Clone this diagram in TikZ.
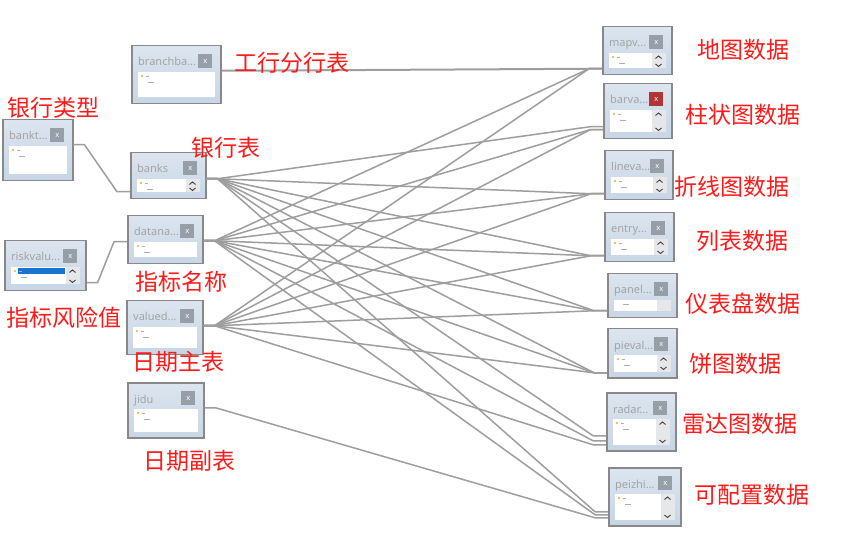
\documentclass[tikz,border=0pt]{standalone}
\usepackage{fontspec}
\newfontfamily\cjk{Noto Sans CJK SC}
\newfontfamily\uifont{Noto Sans}
\usetikzlibrary{calc}
\definecolor{boxtop}{HTML}{DCE5EF}
\definecolor{boxbot}{HTML}{C7D5E5}
\definecolor{boxline}{HTML}{888888}
\definecolor{ttlc}{HTML}{A4A4A4}
\definecolor{btnc}{HTML}{969EA8}
\definecolor{btnred}{HTML}{B03535}
\definecolor{scrl}{HTML}{E6E7E9}
\definecolor{chevc}{HTML}{404040}
\definecolor{linkc}{HTML}{9E9E9E}
\definecolor{labred}{HTML}{FF1A1A}
\definecolor{keyc}{HTML}{E8B020}
\definecolor{rowc}{HTML}{B8A8B0}
\definecolor{hilite}{HTML}{1874D2}
\tikzset{
 tbl/.style={draw=boxline, line width=1.5pt, top color=boxtop, bottom color=boxbot, inner sep=0pt, rectangle},
 ttl/.style={font=\uifont\fontsize{11}{12}\selectfont, text=ttlc, inner sep=0pt},
 btn/.style={minimum width=14pt, minimum height=14pt, inner sep=0pt, font=\uifont\fontsize{7.5}{8}\selectfont, text=white},
 lbl/.style={font=\cjk\fontsize{23}{27}\selectfont, text=labred, inner sep=0pt, anchor=west},
 link/.style={draw=linkc, line width=1.5pt, line join=round},
 chev/.style={draw=chevc, line width=0.9pt},
 rowline/.style={draw=rowc, line width=0.7pt},
}
% name, x, y, w, h, title, button colour, kind (0 plain, 1 scroll, 2 scroll+highlight, 3 grey side)
\newcommand\dbtable[8]{%
 \node[tbl, minimum width=#4pt, minimum height=#5pt, anchor=north west] (#1) at (#2,#3) {};
 \node[ttl, anchor=base west] (#1-t) at ([xshift=7pt,yshift=-21pt]#1.north west) {#6};
 \node[btn, fill=#7, anchor=north east] (#1-b) at ([xshift=-9pt,yshift=-9pt]#1.north east) {x};
 \fill[white] ([xshift=7pt,yshift=-27pt]#1.north west) rectangle ([xshift=-7pt,yshift=7pt]#1.south east);
 \ifcase#8
 \or
  \fill[scrl] ([xshift=-21pt,yshift=-27pt]#1.north east) rectangle ([xshift=-7pt,yshift=7pt]#1.south east);
  \draw[chev] ([xshift=-17pt,yshift=-32.5pt]#1.north east) -- ++(3pt,2.5pt) -- ++(3pt,-2.5pt);
  \draw[chev] ([xshift=-17pt,yshift=11.5pt]#1.south east) -- ++(3pt,-2.5pt) -- ++(3pt,2.5pt);
 \or
  \fill[scrl] ([xshift=-21pt,yshift=-27pt]#1.north east) rectangle ([xshift=-7pt,yshift=7pt]#1.south east);
  \fill[hilite] ([xshift=14pt,yshift=-28pt]#1.north west) rectangle ([xshift=-22pt,yshift=-34pt]#1.north east);
  \draw[chev] ([xshift=-17pt,yshift=-32.5pt]#1.north east) -- ++(3pt,2.5pt) -- ++(3pt,-2.5pt);
  \draw[chev] ([xshift=-17pt,yshift=11.5pt]#1.south east) -- ++(3pt,-2.5pt) -- ++(3pt,2.5pt);
 \or
  \fill[scrl] ([xshift=-21pt,yshift=-27pt]#1.north east) rectangle ([xshift=-7pt,yshift=7pt]#1.south east);
 \fi
 \ifnum#8=3
  \draw[rowline] ([xshift=16pt,yshift=-31pt]#1.north west) -- ++(6pt,0);
 \else
  \fill[keyc] ([xshift=11pt,yshift=-31pt]#1.north west) circle (1.1pt);
  \draw[rowline] ([xshift=15pt,yshift=-31pt]#1.north west) -- ++(3pt,0);
  \draw[rowline] ([xshift=17pt,yshift=-37pt]#1.north west) -- ++(6pt,0);
 \fi
}
\newcommand\lnk[4]{\draw[link] ([yshift=#2]#1.east) -- ++(11pt,0) -- ([xshift=-13pt,yshift=#4]#3.west) -- ([yshift=#4]#3.west);}
\begin{document}
\begin{tikzpicture}[x=1pt,y=-1pt]
\fill[white] (0,0) rectangle (865,545);
\useasboundingbox (0,0) rectangle (865,545);

% left tables
\dbtable{branchba}{131}{45}{89}{58}{branchba...}{btnc}{0}
\dbtable{bankt}{2}{119}{70}{61}{bankt...}{btnc}{0}
\dbtable{banks}{130}{152}{75}{46}{banks}{btnc}{1}
\dbtable{datana}{127}{215}{75}{48}{datana...}{btnc}{0}
\dbtable{riskvalu}{4}{240}{81}{50}{riskvalu...}{btnc}{2}
\dbtable{valued}{126}{300}{76}{54}{valued...}{btnc}{0}
\dbtable{jidu}{127}{382}{76}{55}{jidu}{btnc}{0}
% right tables
\dbtable{mapv}{602}{26}{69}{48}{mapv...}{btnc}{1}
\dbtable{barva}{603}{83}{68}{55}{barva...}{btnred}{1}
\dbtable{lineva}{604}{150}{68}{49}{lineva...}{btnc}{1}
\dbtable{entry}{604}{212}{69}{49}{entry...}{btnc}{1}
\dbtable{panel}{607}{273}{69}{44}{panel...}{btnc}{3}
\dbtable{pieval}{607}{328}{69}{49}{pieval...}{btnc}{1}
\dbtable{radar}{606}{392}{69}{58}{radar...}{btnc}{1}
\dbtable{peizhi}{608}{467}{72}{58}{peizhi...}{btnc}{1}

% connectors
\draw[link, line width=2pt] ([yshift=4pt]branchba.east) -- ++(11pt,0) -- ([xshift=-13pt,yshift=-18pt]mapv.west) -- ([yshift=-18pt]mapv.west);
\lnk{bankt}{5.5pt}{banks}{-16pt}
\lnk{riskvalu}{-17pt}{datana}{-2pt}
\lnk{jidu}{2.5pt}{peizhi}{-21pt}
\lnk{banks}{-3pt}{barva}{-15.5pt}
\lnk{banks}{-3pt}{lineva}{-18.5pt}
\lnk{banks}{-3pt}{entry}{-18.5pt}
\lnk{banks}{-3pt}{panel}{-15pt}
\lnk{banks}{-3pt}{pieval}{-19.5pt}
\lnk{banks}{-3pt}{radar}{-14pt}
\lnk{banks}{-3pt}{peizhi}{-15pt}
\lnk{datana}{-1pt}{mapv}{-18pt}
\lnk{datana}{-1pt}{barva}{-18.5pt}
\lnk{datana}{-1pt}{lineva}{-18.5pt}
\lnk{datana}{-1pt}{entry}{-18.5pt}
\lnk{datana}{-1pt}{panel}{-15pt}
\lnk{datana}{-1pt}{pieval}{-19.5pt}
\lnk{datana}{-1pt}{radar}{-19pt}
\lnk{datana}{-1pt}{peizhi}{-18pt}
\lnk{valued}{2pt}{mapv}{-18pt}
\lnk{valued}{2pt}{barva}{-18.5pt}
\lnk{valued}{2pt}{lineva}{-18.5pt}
\lnk{valued}{2pt}{entry}{-18.5pt}
\lnk{valued}{2pt}{panel}{-15pt}
\lnk{valued}{2pt}{pieval}{-19.5pt}
\lnk{valued}{2pt}{radar}{-23pt}

% labels
\node[lbl] (l-branchba) at (234,63) {工行分行表};
\node[lbl] (l-bankt) at (7,108) {银行类型};
\node[lbl] (l-banks) at (191,148) {银行表};
\node[lbl] (l-datana) at (135,282) {指标名称};
\node[lbl] (l-riskvalu) at (6,318) {指标风险值};
\node[lbl] (l-valued) at (132,362) {日期主表};
\node[lbl] (l-jidu) at (143,461) {日期副表};
\node[lbl] (l-mapv) at (697,50) {地图数据};
\node[lbl] (l-barva) at (685,115) {柱状图数据};
\node[lbl] (l-lineva) at (674,187) {折线图数据};
\node[lbl] (l-entry) at (696,241) {列表数据};
\node[lbl] (l-panel) at (685,304) {仪表盘数据};
\node[lbl] (l-pieval) at (689,364) {饼图数据};
\node[lbl] (l-radar) at (682,424) {雷达图数据};
\node[lbl] (l-peizhi) at (694,495) {可配置数据};
\end{tikzpicture}
\end{document}
